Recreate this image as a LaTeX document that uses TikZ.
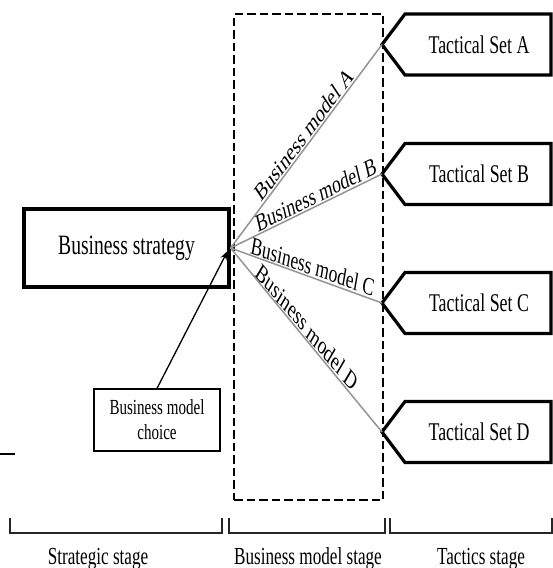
\documentclass[tikz,border=0pt]{standalone}
\usepackage{fontspec}
\setmainfont{Liberation Serif}
\newfontfamily\narrowfont[FakeStretch=0.7]{Liberation Serif}
\usetikzlibrary{arrows.meta,calc}
\begin{document}
\begin{tikzpicture}[x=1pt,y=-1pt,
  thickbox/.style={draw=black, line width=3.2pt, inner sep=0pt},
  tactbox/.style={draw=black, line width=3.2pt, line join=miter},
  txt/.style={inner sep=0pt, font=\narrowfont\fontsize{25.5}{30}\selectfont},
  bottomtxt/.style={inner sep=0pt, anchor=base, font=\narrowfont\fontsize{24.5}{30}\selectfont},
  model/.style={draw=black!42, line width=1.5pt},
  mlabel/.style={inner sep=0pt, inner ysep=2pt, anchor=south, font=\fontsize{25}{30}\selectfont},
  bracket/.style={draw=black!85, line width=1.2pt},
  stagebox/.style={draw=black, line width=2.9pt, dash pattern=on 8.5pt off 4pt, inner sep=0pt}]
\useasboundingbox (0,0) rectangle (553,568);

% business model stage (dashed)
\node[stagebox, minimum width=149pt, minimum height=486pt] (bmstage) at (308.5,257) {};

% business strategy
\node[thickbox, minimum width=205pt, minimum height=78pt,
      font=\narrowfont\fontsize{28}{32}\selectfont] (strat) at (126.5,248) {Business strategy};

% business model choice
\node[draw=black, line width=1.2pt, inner sep=0pt, minimum width=126pt, minimum height=62pt,
      align=center, font=\narrowfont\fontsize{21.5}{25}\selectfont] (choice) at (157,420) {Business model\\choice};

% tactical sets
\foreach \n/\y in {A/44.5, B/174, C/303, D/432} {
  \draw[tactbox] (382,\y) -- (405,\y-30.5) -- (551,\y-30.5) -- (551,\y+30.5) -- (405,\y+30.5) -- cycle;
  \coordinate (tip\n) at (382,\y);
  \node[txt] (tac\n) at (479,\y) {Tactical Set \n};
}

% business model connectors
\draw[model] (strat.east) -- (tipA) coordinate[pos=0.52] (lA);
\draw[model] (strat.east) -- (tipB) coordinate[pos=0.58] (lB);
\draw[model] (strat.east) -- (tipC) coordinate[pos=0.53] (lC);
\draw[model] (strat.east) -- (tipD) coordinate[pos=0.475] (lD);

\node[mlabel, xscale=0.7, rotate=43.2] (mA) at (lA) {Business model A};
\node[mlabel, xscale=0.7, rotate=19.0] (mB) at (lB) {Business model B};
\node[mlabel, xscale=0.7, rotate=-13.7] (mC) at (lC) {Business model C};
\node[mlabel, xscale=0.7, rotate=-40.0] (mD) at (lD) {Business model D};

% choice arrow
\coordinate (chosen) at ($(strat.east)+(-3,3)$);
\draw[line width=1.3pt, -{Stealth[length=9pt,width=6.5pt]}] (choice.north) -- (chosen);

% stray short line at left
\coordinate (stubL) at (0,454);
\coordinate (stubR) at (15,454);
\draw[line width=1.2pt] (stubL) -- (stubR);

% stage brackets
\draw[bracket] (10,518) |- (222,533) -- (222,518);
\draw[bracket] (229,518) |- (385,533) -- (385,518);
\draw[bracket] (390,518) |- (552,533) -- (552,518);

\node[bottomtxt] (s1) at (98,564) {Strategic stage};
\node[bottomtxt] (s2) at (308,564) {Business model stage};
\node[bottomtxt] (s3) at (481,564) {Tactics stage};
\end{tikzpicture}
\end{document}
